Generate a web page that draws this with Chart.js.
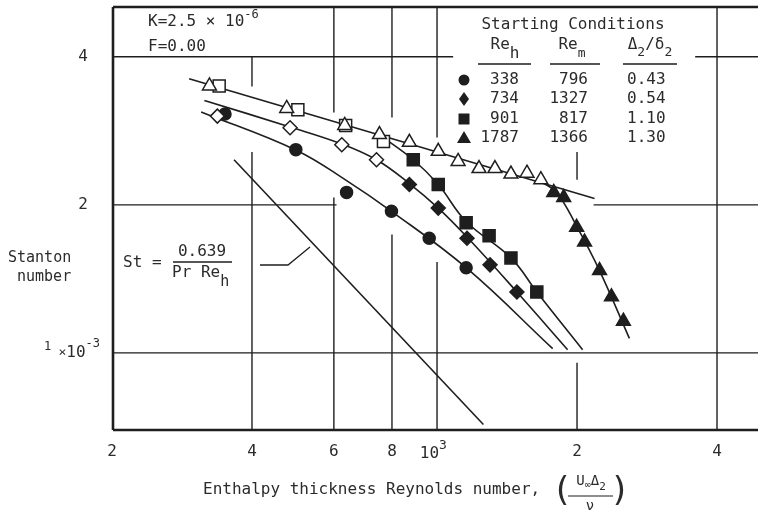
<!DOCTYPE html>
<html>
<head>
<meta charset="utf-8">
<script src="https://cdn.jsdelivr.net/npm/chart.js@4.4.0/dist/chart.umd.min.js"></script>
<style>
  html, body { margin: 0; padding: 0; background: #fff; overflow: hidden; }
  #wrap { width: 758px; height: 512px; }
  #chart { display: block; width: 758px; height: 512px; }
</style>
</head>
<body>
<div id="wrap"><canvas id="chart" width="758" height="512"></canvas></div>
<script>
// DATA (Re_h on x, Stanton number on y)
const circleRe = [350, 497, 639, 798, 962, 1155];
const circleSt = [3.06e-3, 2.59e-3, 2.12e-3, 1.94e-3, 1.71e-3, 1.49e-3];
const diamondRe = [872, 1006, 1160, 1300, 1485];
const diamondSt = [2.20e-3, 1.97e-3, 1.71e-3, 1.51e-3, 1.33e-3];
const squareRe = [889, 1006, 1155, 1294, 1442, 1639];
const squareSt = [2.47e-3, 2.20e-3, 1.84e-3, 1.73e-3, 1.56e-3, 1.33e-3];
const triangleRe = [1782, 1872, 1996, 2076, 2236, 2372, 2516];
const triangleSt = [2.12e-3, 2.07e-3, 1.80e-3, 1.68e-3, 1.47e-3, 1.30e-3, 1.16e-3];

const openTriangleRe = [324, 475, 633, 752, 872, 1006, 1110, 1231, 1332, 1442, 1561, 1672];
const openTriangleSt = [3.49e-3, 3.14e-3, 2.90e-3, 2.78e-3, 2.68e-3, 2.57e-3, 2.45e-3, 2.37e-3, 2.37e-3, 2.31e-3, 2.32e-3, 2.25e-3];
const openSquareRe = [340, 502, 636, 767];
const openSquareSt = [3.49e-3, 3.12e-3, 2.90e-3, 2.69e-3];
const openDiamondRe = [337, 483, 624, 741];
const openDiamondSt = [3.03e-3, 2.87e-3, 2.65e-3, 2.47e-3];

// faired curves drawn through the data
const fitTopRe = [293, 2181];
const fitTopSt = [3.61e-3, 2.06e-3];
const fitCircleRe = [311, 499, 639, 798, 1155, 1773];
const fitCircleSt = [3.09e-3, 2.58e-3, 2.24e-3, 1.94e-3, 1.49e-3, 1.02e-3];
const fitDiamondRe = [316, 483, 624, 741, 872, 1006, 1160, 1485, 1909];
const fitDiamondSt = [3.26e-3, 2.88e-3, 2.66e-3, 2.47e-3, 2.21e-3, 1.97e-3, 1.72e-3, 1.33e-3, 1.015e-3];
const fitSquareRe = [759, 889, 1006, 1155, 1442, 1639, 2056];
const fitSquareSt = [2.76e-3, 2.47e-3, 2.20e-3, 1.85e-3, 1.56e-3, 1.33e-3, 1.015e-3];
const fitTriangleRe = [1672, 1808, 1996, 2236, 2592];
const fitTriangleSt = [2.23e-3, 2.12e-3, 1.81e-3, 1.47e-3, 1.07e-3];
const correlationRe = [366, 1258];
const correlationSt = [2.47e-3, 7.15e-4];

// legend table
const startReh = ["338", "734", "901", "1787"];
const startRem = ["796", "1327", "817", "1366"];
const startRatio = ["0.43", "0.54", "1.10", "1.30"];
const startStyle = ["circle", "diamond", "square", "triangle"];

// tick labels
const xTickValues = [200, 400, 600, 800, 2000, 4000];
const xTickLabels = ["2", "4", "6", "8", "2", "4"];
const yTickValues = [4e-3, 2e-3];
const yTickLabels = ["4", "2"];

// AXIS RANGE
const X_MIN = 201, X_MAX = 4900;
const Y_MIN = 0.697e-3, Y_MAX = 5.05e-3;

// broken grid lines of the original drawing (in data units)
const vGrid = [
    { at: 400, parts: [[4e-3, 3.48e-3], [2.56e-3, Y_MIN]] },
    { at: 600, parts: [[Y_MAX, 3.08e-3], [2.07e-3, Y_MIN]] },
    { at: 800, parts: [[Y_MAX, 3.01e-3], [1.74e-3, Y_MIN]] },
    { at: 1000, parts: [[Y_MAX, 2.74e-3], [1.53e-3, Y_MIN]] },
    { at: 2000, parts: [[2.56e-3, 2.25e-3], [0.955e-3, Y_MIN]] },
    { at: 4000, parts: [[Y_MAX, Y_MIN]] }
];
const hGrid = [
    { at: 4e-3, parts: [[X_MIN, 1083], [3590, X_MAX]] },
    { at: 2e-3, parts: [[X_MIN, 608], [2171, X_MAX]] },
    { at: 1e-3, parts: [[X_MIN, X_MAX]] }
];

const INK = "#1e1e1e";
const TEXT = "#2b2b2b";
const FONT = '"DejaVu Sans Mono", "Liberation Mono", monospace';

function pts(xs, ys) {
    return xs.map((x, i) => ({ x: x, y: ys[i] }));
}

function markers(xs, ys, style, radius, filled) {
    return {
        data: pts(xs, ys),
        showLine: false,
        pointStyle: style,
        pointRadius: radius,
        pointBackgroundColor: filled ? INK : "#fff",
        pointBorderColor: INK,
        pointBorderWidth: 1.5,
        order: 1
    };
}

function curve(xs, ys, tension) {
    return {
        data: pts(xs, ys),
        showLine: true,
        borderColor: INK,
        borderWidth: 1.6,
        pointRadius: 0,
        tension: tension,
        order: 2
    };
}

// draw text runs (for sub/superscripts)
function drawRuns(ctx, x, y, parts, align) {
    let total = 0;
    parts.forEach(p => {
        ctx.font = p[1] + "px " + FONT;
        total += ctx.measureText(p[0]).width;
    });
    let cx = align === "center" ? x - total / 2 : align === "right" ? x - total : x;
    ctx.textAlign = "left";
    ctx.textBaseline = "middle";
    parts.forEach(p => {
        ctx.font = p[1] + "px " + FONT;
        ctx.fillText(p[0], cx, y + (p[2] || 0));
        cx += ctx.measureText(p[0]).width;
    });
}

function seg(ctx, x0, y0, x1, y1) {
    ctx.beginPath();
    ctx.moveTo(x0, y0);
    ctx.lineTo(x1, y1);
    ctx.stroke();
}

function legendMarker(ctx, style, x, y) {
    ctx.beginPath();
    if (style === "circle") {
        ctx.arc(x, y, 5.5, 0, Math.PI * 2);
    } else if (style === "diamond") {
        ctx.moveTo(x, y - 7); ctx.lineTo(x + 5, y); ctx.lineTo(x, y + 7); ctx.lineTo(x - 5, y);
        ctx.closePath();
    } else if (style === "square") {
        ctx.rect(x - 5.5, y - 5.5, 11, 11);
    } else {
        ctx.moveTo(x, y - 7); ctx.lineTo(x + 7, y + 5); ctx.lineTo(x - 7, y + 5);
        ctx.closePath();
    }
    ctx.fill();
}

// GRID, FRAME AND LETTERING
const paper = {
    id: "paper",
    beforeDatasetsDraw(chart) {
        const { ctx, chartArea: a, scales: { x, y } } = chart;
        ctx.save();
        ctx.strokeStyle = INK;
        ctx.lineWidth = 1.4;
        vGrid.forEach(g => {
            const px = x.getPixelForValue(g.at);
            g.parts.forEach(p => seg(ctx, px, y.getPixelForValue(p[0]), px, y.getPixelForValue(p[1])));
        });
        hGrid.forEach(g => {
            const py = y.getPixelForValue(g.at);
            g.parts.forEach(p => seg(ctx, x.getPixelForValue(p[0]), py, x.getPixelForValue(p[1]), py));
        });
        ctx.lineWidth = 2.6;
        seg(ctx, a.left, a.top, a.right, a.top);
        seg(ctx, a.left, a.top, a.left, a.bottom);
        seg(ctx, a.left, a.bottom, a.right, a.bottom);
        ctx.restore();
    },
    afterDatasetsDraw(chart) {
        const { ctx, scales: { x, y } } = chart;
        ctx.save();
        ctx.fillStyle = TEXT;
        ctx.strokeStyle = INK;

        // tick labels
        xTickValues.forEach((v, i) => drawRuns(ctx, x.getPixelForValue(v), 452, [[xTickLabels[i], 16]], "center"));
        const p3 = x.getPixelForValue(1000);
        drawRuns(ctx, p3 + 2, 454, [["10", 16]], "right");
        drawRuns(ctx, p3 + 2, 446, [["3", 13]], "left");
        yTickValues.forEach((v, i) => drawRuns(ctx, 88, y.getPixelForValue(v), [[yTickLabels[i], 16]], "right"));
        drawRuns(ctx, 100, y.getPixelForValue(1e-3), [["1 ", 12, -6], ["\u00d7", 13, 0], ["10", 16, 0], ["-3", 12, -9]], "right");

        // axis titles
        drawRuns(ctx, 8, 258, [["Stanton", 15]], "left");
        drawRuns(ctx, 17, 277, [["number", 15]], "left");
        drawRuns(ctx, 203, 490, [["Enthalpy thickness Reynolds number,", 16]], "left");
        drawRuns(ctx, 562, 492, [["(", 34]], "center");
        drawRuns(ctx, 620, 492, [[")", 34]], "center");
        drawRuns(ctx, 591, 481, [["U", 14, 0], ["\u221e", 10, 4], ["\u0394", 14, 0], ["2", 11, 6]], "center");
        ctx.lineWidth = 1.2;
        seg(ctx, 568, 496, 613, 496);
        drawRuns(ctx, 590, 506, [["\u03bd", 14]], "center");

        // K and F
        drawRuns(ctx, 148, 22, [["K=2.5 \u00d7 10", 16, 0], ["-6", 12, -7]], "left");
        drawRuns(ctx, 148, 47, [["F=0.00", 16]], "left");

        // correlation label and leader
        drawRuns(ctx, 123, 263, [["St =", 16]], "left");
        drawRuns(ctx, 202, 252, [["0.639", 16]], "center");
        ctx.lineWidth = 1.3;
        seg(ctx, 173, 262, 232, 262);
        drawRuns(ctx, 172, 273, [["Pr Re", 16, 0], ["h", 15, 9]], "left");
        ctx.beginPath();
        ctx.moveTo(260, 265); ctx.lineTo(288, 265); ctx.lineTo(310, 247);
        ctx.stroke();

        // starting conditions table
        drawRuns(ctx, 573, 25, [["Starting Conditions", 16]], "center");
        drawRuns(ctx, 505, 45, [["Re", 16, 0], ["h", 16, 9]], "center");
        drawRuns(ctx, 572, 45, [["Re", 16, 0], ["m", 13, 9]], "center");
        drawRuns(ctx, 650, 45, [["\u0394", 16, 0], ["2", 13, 8], ["/", 16, 0], ["\u03b4", 16, 0], ["2", 13, 8]], "center");
        ctx.lineWidth = 1.5;
        seg(ctx, 478, 64, 531, 64);
        seg(ctx, 550, 64, 600, 64);
        seg(ctx, 623, 64, 677, 64);
        const rows = [80, 99, 119, 138];
        rows.forEach((ry, i) => {
            ctx.fillStyle = INK;
            legendMarker(ctx, startStyle[i], 464, ry);
            ctx.fillStyle = TEXT;
            drawRuns(ctx, 519, ry, [[startReh[i], 16]], "right");
            drawRuns(ctx, 588, ry, [[startRem[i], 16]], "right");
            drawRuns(ctx, 627, ry, [[startRatio[i], 16]], "left");
        });
        ctx.restore();
    }
};

// CHART
const chart = new Chart(document.getElementById("chart"), {
    type: "scatter",
    data: {
        datasets: [
            markers(openTriangleRe, openTriangleSt, "triangle", 8, false),
            markers(openSquareRe, openSquareSt, "rect", 8.5, false),
            markers(openDiamondRe, openDiamondSt, "rectRot", 7, false),
            markers(circleRe, circleSt, "circle", 6, true),
            markers(diamondRe, diamondSt, "rectRot", 7, true),
            markers(squareRe, squareSt, "rect", 8.5, true),
            markers(triangleRe, triangleSt, "triangle", 8, true),
            curve(fitTopRe, fitTopSt, 0),
            curve(fitCircleRe, fitCircleSt, 0.4),
            curve(fitDiamondRe, fitDiamondSt, 0.4),
            curve(fitSquareRe, fitSquareSt, 0.4),
            curve(fitTriangleRe, fitTriangleSt, 0.4),
            curve(correlationRe, correlationSt, 0)
        ]
    },
    options: {
        responsive: false,
        animation: false,
        devicePixelRatio: 1,
        layout: { autoPadding: false, padding: { left: 113, top: 7, right: 0, bottom: 82 } },
        plugins: { legend: { display: false }, tooltip: { enabled: false } },
        scales: {
            x: { type: "logarithmic", min: X_MIN, max: X_MAX, bounds: "data", display: false },
            y: { type: "logarithmic", min: Y_MIN, max: Y_MAX, bounds: "data", display: false }
        }
    },
    plugins: [paper]
});
</script>
</body>
</html>
